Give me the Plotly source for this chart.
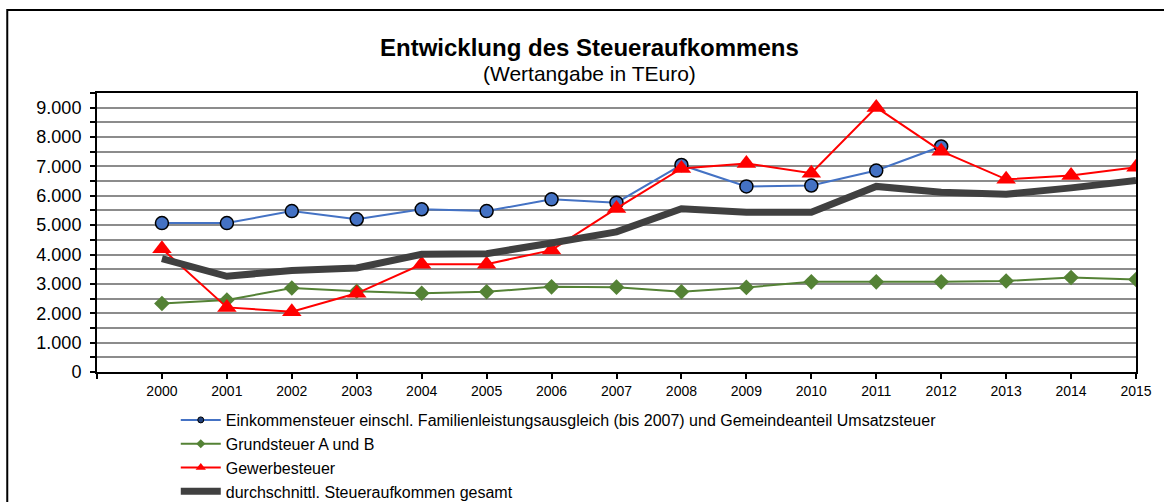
import plotly.graph_objects as go

years = list(range(2000, 2016))
einkommensteuer = [5070, 5070, 5480, 5200, 5540, 5480, 5880, 5765, 7050, 6320, 6350, 6860, 7680, None, None, None]
grundsteuer = [2330, 2450, 2860, 2750, 2680, 2730, 2900, 2890, 2730, 2880, 3070, 3070, 3070, 3100, 3220, 3150]
gewerbesteuer = [4200, 2200, 2050, 2680, 3670, 3670, 4150, 5570, 6930, 7100, 6770, 9010, 7520, 6560, 6690, 6975]
durchschnitt = [3860, 3260, 3460, 3540, 4010, 4030, 4390, 4770, 5560, 5440, 5440, 6320, 6120, 6050, 6270, 6520]

names = [
    "Einkommensteuer einschl. Familienleistungsausgleich (bis 2007) und Gemeindeanteil Umsatzsteuer",
    "Grundsteuer A und B",
    "Gewerbesteuer",
    "durchschnittl. Steueraufkommen gesamt",
]
title_text = "Entwicklung des Steueraufkommens"
subtitle_text = "(Wertangabe in TEuro)"

y_tickvals = list(range(0, 10000, 500))
y_ticktext = [f"{v:,}".replace(",", ".") if v % 1000 == 0 else "" for v in y_tickvals]
x_tickvals = [1999] + years
x_ticktext = [""] + [str(y) for y in years]

# figure slightly taller than the 502px window so the legend does not shrink the plot
W, H = 1164, 560
L, R, T = 97, 25, 93
PLOT_BOTTOM = 372
B = H - PLOT_BOTTOM
pw, ph = W - L - R, H - T - B

def px_x(p):
    return (p - L) / pw

def px_y(p):
    return (PLOT_BOTTOM - p) / ph

styles = [
    dict(mode="lines+markers", line=dict(color="#4472C4", width=2),
         marker=dict(symbol="circle", size=13, color="#4472C4", line=dict(color="black", width=1.5)),
         legend_marker=dict(symbol="circle", size=6, color="#1F3F7A", line=dict(color="black", width=1))),
    dict(mode="lines+markers", line=dict(color="#548235", width=2),
         marker=dict(symbol="diamond", size=12, color="#548235"),
         legend_marker=dict(symbol="diamond", size=7, color="#548235")),
    dict(mode="lines+markers", line=dict(color="#FF0000", width=2),
         marker=dict(symbol="triangle-up", size=17, color="#FF0000"),
         legend_marker=dict(symbol="triangle-up", size=9, color="#FF0000")),
    dict(mode="lines", line=dict(color="#404040", width=7), marker=None, legend_marker=None),
]
series = [einkommensteuer, grundsteuer, gewerbesteuer, durchschnitt]

fig = go.Figure()
for name, vals, st in zip(names, series, styles):
    kw = dict(x=years, y=vals, name=name, mode=st["mode"], line=st["line"], showlegend=False)
    if st["marker"]:
        kw["marker"] = st["marker"]
    fig.add_trace(go.Scatter(**kw))
# legend entries (small legend symbols as in the original)
for name, st in zip(names, styles):
    kw = dict(x=[None], y=[None], name=name, mode=st["mode"], line=st["line"], showlegend=True)
    if st["legend_marker"]:
        kw["marker"] = st["legend_marker"]
    fig.add_trace(go.Scatter(**kw))

fig.update_layout(
    width=W, height=H,
    margin=dict(l=L, r=R, t=T, b=B, pad=0),
    paper_bgcolor="white", plot_bgcolor="white",
    font=dict(family="Liberation Sans, Arial, sans-serif", color="black"),
    showlegend=True,
    legend=dict(
        x=px_x(176), y=px_y(403), xanchor="left", yanchor="top",
        font=dict(size=16, color="black"), bgcolor="rgba(0,0,0,0)",
        itemsizing="trace", traceorder="normal", itemwidth=40,
    ),
    xaxis=dict(
        range=[1999, 2015], tickvals=x_tickvals, ticktext=x_ticktext,
        showgrid=False, zeroline=False,
        showline=True, linecolor="black", linewidth=2, mirror=True,
        ticks="outside", ticklen=5, tickwidth=2, tickcolor="black",
        tickfont=dict(size=14, color="black"),
    ),
    yaxis=dict(
        range=[0, 9500], tickvals=y_tickvals, ticktext=y_ticktext,
        showgrid=True, gridcolor="#8C8C8C", gridwidth=2, zeroline=False,
        showline=True, linecolor="black", linewidth=2, mirror=True,
        ticks="outside", ticklen=5, tickwidth=2, tickcolor="black",
        tickfont=dict(size=18, color="black"), ticklabelstandoff=5,
    ),
    annotations=[
        dict(text=f"<b>{title_text}</b>", x=px_x(591), y=px_y(47), xref="paper", yref="paper",
             xanchor="center", yanchor="middle", showarrow=False, font=dict(size=24, color="black")),
        dict(text=subtitle_text, x=px_x(591), y=px_y(73), xref="paper", yref="paper",
             xanchor="center", yanchor="middle", showarrow=False, font=dict(size=21, color="black")),
    ],
    shapes=[
        dict(type="rect", xref="paper", yref="paper",
             x0=px_x(7), x1=px_x(1200), y0=px_y(620), y1=px_y(10),
             line=dict(color="black", width=2), fillcolor="rgba(0,0,0,0)", layer="below"),
    ],
)

fig.write_html(
    "out.html",
    config={"displayModeBar": False},
    post_script="document.body.style.margin='0';document.body.style.overflow='hidden';",
)
